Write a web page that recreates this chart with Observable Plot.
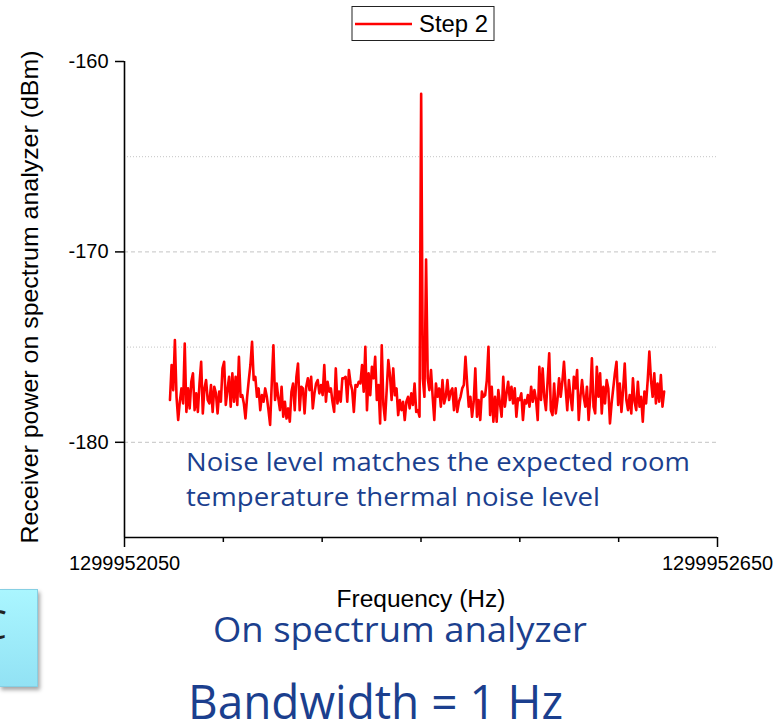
<!DOCTYPE html>
<html><head><meta charset="utf-8">
<script src="https://cdn.jsdelivr.net/npm/d3@7"></script>
<script src="https://cdn.jsdelivr.net/npm/@observablehq/plot@0.6"></script>
<style>
html,body{margin:0;padding:0;background:#fff;overflow:hidden}
#wrap{position:relative;width:777px;height:727px}
#wrap svg{position:absolute;left:0;top:0}
#box{position:absolute;left:-1px;top:589px;width:37px;height:96px;background:linear-gradient(#aaf6ff,#92e2f4);border:1px solid #86cfe3;box-shadow:2px 3px 4px rgba(0,0,0,0.35);overflow:hidden}
#box span{position:absolute;right:30px;top:14px;font:40px "Open Sans",sans-serif;color:#222;line-height:40px}
</style></head><body><div id="wrap"></div>
<script>
const seriesName = "Step 2";
const freqStart = 1299952096, freqEnd = 1299952596;
const power = [
-177.78,-175.94,-177.26,-174.63,-177.61,-178.83,-177.87,-177.17,-177.96,-174.81,
-178.40,-177.17,-178.22,-176.82,-176.38,-178.31,-177.43,-178.40,-176.91,-175.77,
-178.48,-177.17,-176.73,-177.78,-177.96,-176.99,-178.40,-177.08,-177.43,-178.48,
-177.34,-177.87,-176.12,-175.77,-178.04,-177.26,-176.56,-178.13,-176.38,-177.87,
-176.56,-178.04,-175.51,-177.61,-177.52,-177.96,-178.75,-177.61,-176.73,-175.94,
-174.72,-176.73,-176.56,-177.61,-177.17,-178.31,-177.52,-177.87,-177.17,-177.61,
-178.31,-179.09,-176.91,-174.90,-177.78,-176.91,-177.69,-178.31,-177.08,-178.66,
-177.87,-178.75,-178.22,-178.92,-177.34,-176.91,
-178.31,-176.56,-175.86,-178.31,-177.08,-177.17,-178.48,-177.08,-176.64,-177.26,
-176.56,-178.22,-177.43,-176.91,-176.73,-177.43,-176.99,-177.52,-175.94,-177.87,
-176.82,-177.34,-177.17,-177.87,-178.40,-176.12,-177.96,-177.34,-177.87,-176.64,
-176.64,-176.56,-177.87,-176.21,-176.91,-177.26,-178.40,-176.99,-177.08,-176.82,
-176.91,-175.94,-177.34,-174.98,-178.31,-176.38,-177.52,-176.03,-176.64,-175.51,
-177.78,-176.99,-179.01,-174.90,-178.04,-178.83,-177.26,-175.68,-176.47,-177.78,
-176.12,-177.52,-177.17,-178.57,-177.78,-178.31,-177.87,-178.83,-177.87,-177.61,
-178.22,-177.43,-178.04,-176.91,-178.40,-178.31,
-178.66,-161.7,-176.64,-177.61,-170.4,-176.64,-177.26,-176.21,-177.61,
-178.83,-176.91,-177.61,-177.17,-178.13,-176.73,-177.96,-177.61,-176.73,-177.78,
-177.34,-177.17,-178.31,-177.17,-178.40,-177.87,-177.61,-177.17,-176.99,-175.51,
-176.91,-178.13,-177.61,-178.66,-177.87,-176.12,-178.66,-177.78,-178.83,-177.34,
-177.61,-177.52,-176.73,-174.98,-178.57,-177.08,-178.92,-177.61,-178.92,-177.26,
-177.96,-178.66,-176.56,-178.13,-177.43,-176.82,-177.78,-177.08,-177.96,-177.17,
-178.66,-177.69,-177.78,-177.43,-178.83,-177.78,-177.96,-177.52,-178.13,-177.08,
-177.87,-177.26,-177.78,-178.83,-176.03,-177.78,
-176.12,-177.61,-178.31,-176.82,-175.33,-178.31,-178.57,-176.91,-178.48,-177.78,
-176.64,-177.61,-176.82,-175.77,-177.17,-178.31,-176.73,-177.61,-178.31,-176.56,
-177.17,-176.21,-178.83,-177.61,-176.73,-177.61,-178.13,-177.08,-178.83,-177.61,
-175.59,-178.13,-178.48,-176.03,-177.61,-176.38,-178.48,-177.08,-177.96,-176.73,
-177.17,-179.01,-177.96,-177.17,-176.38,-175.77,-178.04,-176.91,-178.40,-177.26,
-175.86,-177.78,-178.31,-177.52,-178.48,-176.64,-177.87,-178.31,-176.82,-178.13,
-177.61,-178.92,-177.34,-177.96,-176.73,-175.24,-176.73,-177.61,-176.38,-177.96,
-176.91,-177.87,-176.47,-178.13,-177.34
];
const yTicks = [-160, -170, -180];
const yMinor = [-165, -175];
const xDomain = [1299952050, 1299952650];
const xLabelTicks = [1299952050, 1299952650];
const xMinor = [1299952150, 1299952250, 1299952350, 1299952450, 1299952550];
const yDomain = [-185, -160];
const xTitle = "Frequency (Hz)";
const yTitle = "Receiver power on spectrum analyzer (dBm)";
const note1 = "Noise level matches the expected room";
const note2 = "temperature thermal noise level";
const line3 = "On spectrum analyzer";
const line4 = "Bandwidth = 1 Hz";

const data = power.map((p, i) => ({f: freqStart + i * (freqEnd - freqStart) / (power.length - 1), p}));

const chart = Plot.plot({
  width: 777, height: 727,
  marginLeft: 124, marginRight: 60, marginTop: 61, marginBottom: 190,
  x: {domain: xDomain},
  y: {domain: yDomain},
  style: {fontFamily: "'Liberation Sans', Arial, sans-serif", fontSize: "20px", color: "#000", background: "transparent", overflow: "visible"},
  marks: [
    Plot.ruleY(yTicks.slice(1), {stroke: "#c4c4c4", strokeDasharray: "4,3", strokeWidth: 1}),
    Plot.ruleY(yMinor, {stroke: "#c4c4c4", strokeDasharray: "1,2", strokeWidth: 1}),
    Plot.axisY({ticks: yTicks, tickSize: 9, tickPadding: 7, tickFormat: d => String(d), label: null, strokeWidth: 1.5, fontSize: 20}),
    Plot.axisX({ticks: xLabelTicks, tickSize: 10, tickPadding: 8, tickFormat: d => String(d), label: null, strokeWidth: 1.5, fontSize: 20}),
    Plot.axisX({ticks: xMinor, tickSize: 5, tickFormat: () => "", label: null, strokeWidth: 1.5}),
    Plot.ruleX([xDomain[0]], {y1: yDomain[0], y2: yDomain[1], strokeWidth: 1.6}),
    Plot.ruleY([yDomain[0]], {strokeWidth: 1.6}),
    Plot.line(data, {x: "f", y: "p", stroke: "#ff0000", strokeWidth: 2.6})
  ]
});
document.getElementById("wrap").appendChild(chart);

const svg = d3.select(chart);
function addText(str, o) {
  const t = svg.append("text")
    .attr("x", o.x).attr("y", o.y)
    .attr("font-size", o.size)
    .attr("font-family", o.family || "'Liberation Sans', Arial, sans-serif")
    .attr("fill", o.fill || "#000")
    .attr("text-anchor", o.anchor || "start")
    .attr("textLength", o.width)
    .attr("lengthAdjust", "spacingAndGlyphs")
    .text(str);
  if (o.transform) t.attr("transform", o.transform);
  return t;
}
const blue = "#1b3f8e";
const cal = "'Open Sans', 'Noto Sans', sans-serif";

// legend
const lg = svg.append("g");
lg.append("rect").attr("x", 352).attr("y", 6.5).attr("width", 142).attr("height", 34).attr("fill", "#fff").attr("stroke", "#222").attr("stroke-width", 1);
lg.append("line").attr("x1", 355).attr("x2", 412).attr("y1", 24).attr("y2", 24).attr("stroke", "#ff0000").attr("stroke-width", 2.4);
addText(seriesName, {x: 419, y: 32, size: 23, width: 69});

// axis titles
addText(xTitle, {x: 421, y: 607, size: 23, width: 169, anchor: "middle"});
addText(yTitle, {x: 0, y: 0, size: 24, width: 493, anchor: "middle", transform: "translate(38,297) rotate(-90)"});

// annotations
addText(note1, {x: 186, y: 471, size: 25, width: 504, family: cal, fill: blue});
addText(note2, {x: 186, y: 506, size: 25, width: 414, family: cal, fill: blue});
addText(line3, {x: 213, y: 642, size: 34, width: 374, family: cal, fill: blue});
addText(line4, {x: 188, y: 719, size: 48, width: 375, family: cal, fill: blue});

const box = document.createElement("div");
box.id = "box";
box.innerHTML = "<span>C</span>";
document.getElementById("wrap").appendChild(box);
</script></body></html>
